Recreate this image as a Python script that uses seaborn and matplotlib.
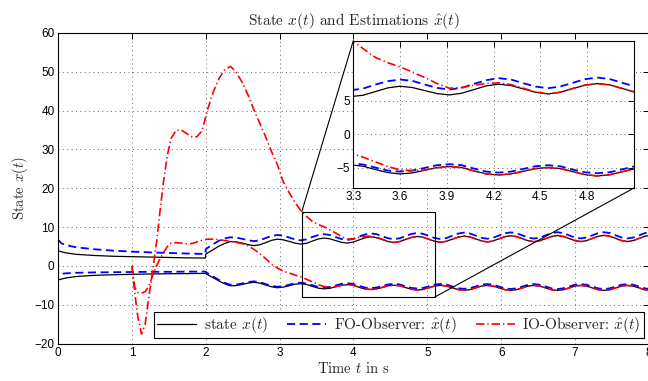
import numpy as np
import pandas as pd
import matplotlib
matplotlib.use("Agg")
import matplotlib.pyplot as plt
import seaborn as sns
from matplotlib.patches import Rectangle, ConnectionPatch
from matplotlib.lines import Line2D

# ---------------- data ----------------
# early phase, state and FO observer
T_STATE_EARLY = [0.0, 0.1, 0.25, 0.5, 0.75, 1.0, 1.25, 1.5, 1.75, 1.995, 2.0]
STATE1_EARLY = [3.9, 3.4, 3.0, 2.7, 2.5, 2.4, 2.3, 2.2, 2.1, 2.05, 3.0]
STATE2_EARLY = [-3.6, -3.1, -2.7, -2.4, -2.25, -2.15, -2.05, -2.0, -1.95, -1.9, -1.95]

T_FO_EARLY = [0.0, 0.003, 0.05, 0.1, 0.25, 0.5, 0.75, 1.0, 1.25, 1.5, 1.75, 1.995, 2.0]
FO1_EARLY = [0.0, 6.7, 5.8, 5.4, 4.8, 4.3, 3.95, 3.7, 3.5, 3.35, 3.2, 3.1, 4.3]
FO2_EARLY = [0.0, -2.1, -2.0, -1.9, -1.75, -1.65, -1.6, -1.55, -1.5, -1.5, -1.45, -1.45, -1.5]

# IO observer starts at t = 1
T_IO_EARLY = [1.0, 1.04, 1.08, 1.13, 1.18, 1.23, 1.29, 1.34, 1.38, 1.43, 1.48,
              1.53, 1.6, 1.67, 1.75, 1.82, 1.88, 1.95]
IO1_EARLY = [0.0, -7.0, -13.0, -17.5, -15.0, -8.0, 0.0, 7.0, 14.0, 22.0, 28.5,
             32.8, 35.0, 35.0, 34.0, 33.2, 33.3, 34.8]
IO2_EARLY = [0.0, -5.5, -6.8, -7.0, -6.6, -5.2, -2.0, 0.3, 1.8, 3.5, 5.0,
             5.9, 6.0, 5.9, 5.7, 5.8, 6.2, 6.6]

# late phase, sampled every 0.079 s starting at t = 2.02
T_LATE = list(np.round(2.02 + 0.079 * np.arange(77), 4))

STATE1_LATE = [3.3, 4.2, 5.1, 5.8, 6.3, 6.2, 5.9, 5.5, 5.25, 5.45, 6.0, 6.6, 6.9, 6.75,
               6.35, 5.9, 5.65, 5.85, 6.4, 6.95, 7.2, 7.0, 6.55, 6.1, 5.9, 6.15, 6.7,
               7.25, 7.5, 7.3, 6.8, 6.3, 6.05, 6.3, 6.85, 7.35, 7.6, 7.4, 6.88, 6.35,
               6.12, 6.36, 6.9, 7.45, 7.7, 7.48, 6.98, 6.45, 6.2, 6.45, 7.0, 7.55, 7.8,
               7.57, 7.03, 6.5, 6.25, 6.5, 7.06, 7.6, 7.85, 7.62, 7.08, 6.53, 6.3, 6.53,
               7.1, 7.65, 7.9, 7.66, 7.1, 6.54, 6.3, 6.54, 7.1, 7.66, 7.9]
STATE2_LATE = [-2.2, -3.0, -3.85, -4.6, -5.1, -5.05, -4.75, -4.4, -4.2, -4.4, -4.9, -5.35,
               -5.6, -5.45, -5.1, -4.7, -4.55, -4.75, -5.25, -5.7, -5.9, -5.75, -5.35,
               -4.95, -4.8, -4.95, -5.45, -5.9, -6.05, -5.9, -5.5, -5.1, -4.95, -5.1,
               -5.55, -6.0, -6.2, -6.03, -5.58, -5.15, -4.97, -5.15, -5.62, -6.08, -6.25,
               -6.08, -5.63, -5.17, -5.0, -5.17, -5.64, -6.1, -6.28, -6.1, -5.65, -5.18,
               -5.0, -5.18, -5.65, -6.12, -6.3, -6.12, -5.65, -5.18, -5.0, -5.18, -5.65,
               -6.12, -6.3, -6.12, -5.65, -5.18, -5.0, -5.18, -5.65, -6.12, -6.3]
FO1_LATE = [4.6, 5.6, 6.5, 7.1, 7.4, 7.3, 7.0, 6.6, 6.4, 6.6, 7.2, 7.7, 8.0, 7.8, 7.35,
            6.85, 6.6, 6.85, 7.45, 7.95, 8.2, 8.0, 7.45, 6.95, 6.7, 6.95, 7.55, 8.1, 8.4,
            8.2, 7.65, 7.15, 6.9, 7.15, 7.7, 8.25, 8.5, 8.28, 7.73, 7.18, 6.95, 7.2, 7.78,
            8.35, 8.6, 8.37, 7.83, 7.25, 7.02, 7.27, 7.85, 8.42, 8.65, 8.42, 7.88, 7.3,
            7.07, 7.3, 7.9, 8.47, 8.7, 8.47, 7.9, 7.32, 7.1, 7.32, 7.9, 8.47, 8.7, 8.47,
            7.9, 7.32, 7.1, 7.32, 7.9, 8.47, 8.7]
FO2_LATE = [-1.8, -2.7, -3.6, -4.35, -4.85, -4.8, -4.5, -4.15, -3.95, -4.15, -4.65, -5.1,
            -5.35, -5.2, -4.85, -4.45, -4.3, -4.5, -4.95, -5.4, -5.55, -5.4, -5.0, -4.6,
            -4.45, -4.6, -5.1, -5.55, -5.7, -5.55, -5.15, -4.75, -4.6, -4.75, -5.25,
            -5.65, -5.8, -5.65, -5.22, -4.78, -4.62, -4.78, -5.27, -5.72, -5.88, -5.72,
            -5.28, -4.8, -4.65, -4.8, -5.3, -5.75, -5.92, -5.75, -5.3, -4.82, -4.67,
            -4.82, -5.3, -5.77, -5.95, -5.75, -5.3, -4.82, -4.67, -4.82, -5.3, -5.77,
            -5.95, -5.75, -5.3, -4.82, -4.67, -4.82, -5.3, -5.77, -5.95]
IO1_LATE = [40.0, 44.7, 48.2, 50.6, 51.4, 49.8, 47.3, 44.0, 40.2, 36.8, 33.3, 29.5, 26.2,
            21.8, 19.0, 16.5, 14.3, 12.8, 11.5, 10.7, 10.1, 9.3, 8.5, 7.6, 6.9, 7.0, 7.35,
            7.6, 7.7, 7.45, 6.9, 6.35, 6.05, 6.3, 6.85, 7.35, 7.6, 7.4, 6.88, 6.35,
            6.12, 6.36, 6.9, 7.45, 7.7, 7.48, 6.98, 6.45, 6.2, 6.45, 7.0, 7.55, 7.8,
            7.57, 7.03, 6.5, 6.25, 6.5, 7.06, 7.6, 7.85, 7.62, 7.08, 6.53, 6.3, 6.53,
            7.1, 7.65, 7.9, 7.66, 7.1, 6.54, 6.3, 6.54, 7.1, 7.66, 7.9]
IO2_LATE = [6.9, 6.9, 6.8, 6.55, 6.35, 6.05, 5.75, 5.2, 4.3, 3.2, 1.9, 0.5, -0.5, -1.3,
            -1.8, -2.3, -2.8, -3.4, -4.1, -4.8, -5.3, -5.4, -5.3, -5.0, -4.8, -4.95,
            -5.45, -5.9, -6.05, -5.9, -5.5, -5.1, -4.95, -5.1, -5.55, -6.0, -6.2, -6.03,
            -5.58, -5.15, -4.97, -5.15, -5.62, -6.08, -6.25, -6.08, -5.63, -5.17, -5.0,
            -5.17, -5.64, -6.1, -6.28, -6.1, -5.65, -5.18, -5.0, -5.18, -5.65, -6.12,
            -6.3, -6.12, -5.65, -5.18, -5.0, -5.18, -5.65, -6.12, -6.3, -6.12, -5.65,
            -5.18, -5.0, -5.18, -5.65, -6.12, -6.3]

XTICKS = [0, 1, 2, 3, 4, 5, 6, 7, 8]
YTICKS = [-20, -10, 0, 10, 20, 30, 40, 50, 60]
INSET_XTICKS = [3.3, 3.6, 3.9, 4.2, 4.5, 4.8]
INSET_YTICKS = [-5, 0, 5]
ZOOM_X = [3.3, 5.1]
ZOOM_Y = [-8, 14]

TITLE = r"State $x(t)$ and Estimations $\hat{x}(t)$"
XLABEL = r"Time $t$ in s"
YLABEL = r"State $x(t)$"
LEGEND = [r"state $x(t)$", r"FO-Observer: $\hat{x}(t)$", r"IO-Observer: $\hat{x}(t)$"]

# ---------------- assemble long tables ----------------
def frame(t, v, series):
    return pd.DataFrame({"t": t, "x": v, "series": series})

df = pd.concat([
    frame(T_STATE_EARLY + T_LATE, STATE1_EARLY + STATE1_LATE, "s1"),
    frame(T_STATE_EARLY + T_LATE, STATE2_EARLY + STATE2_LATE, "s2"),
    frame(T_FO_EARLY + T_LATE, FO1_EARLY + FO1_LATE, "f1"),
    frame(T_FO_EARLY + T_LATE, FO2_EARLY + FO2_LATE, "f2"),
    frame(T_IO_EARLY + T_LATE, IO1_EARLY + IO1_LATE, "r1"),
    frame(T_IO_EARLY + T_LATE, IO2_EARLY + IO2_LATE, "r2"),
], ignore_index=True)

STYLES = {
    "s1": dict(color="black", lw=0.9, linestyle="-"),
    "s2": dict(color="black", lw=0.9, linestyle="-"),
    "f1": dict(color="#0000ff", lw=1.3, linestyle=(0, (4.5, 2.5))),
    "f2": dict(color="#0000ff", lw=1.3, linestyle=(0, (4.5, 2.5))),
    "r1": dict(color="#ff0000", lw=1.2, linestyle=(0, (5, 1.8, 0.8, 1.8))),
    "r2": dict(color="#ff0000", lw=1.2, linestyle=(0, (5, 1.8, 0.8, 1.8))),
}

sns.set_theme(style="white")
plt.rcParams.update({
    "font.family": ["serif"],
    "font.serif": ["cmr10"],
    "mathtext.fontset": "cm",
    "axes.formatter.use_mathtext": False,
    "axes.edgecolor": "black",
    "axes.linewidth": 0.8,
})

fig = plt.figure(figsize=(6.48, 3.81), dpi=100)
ax = fig.add_axes([0.0895, 0.098, 0.912, 0.8154])


def draw_lines(a):
    for key in ["s1", "s2", "f1", "f2", "r1", "r2"]:
        sub = df[df["series"] == key]
        sns.lineplot(data=sub, x="t", y="x", ax=a, sort=False, estimator=None,
                     legend=False, **STYLES[key])


def style_axes(a, xticks, yticks):
    a.set_xticks(xticks)
    a.set_yticks(yticks)
    a.grid(True, color="0.4", linestyle=(0, (1, 3.5)), lw=0.7)
    a.tick_params(direction="in", top=True, right=True, length=4, width=0.7,
                  labelsize=8.5, labelfontfamily="Liberation Sans", colors="black",
                  pad=2.5)
    for s in a.spines.values():
        s.set_color("black")
        s.set_linewidth(0.8)
    a.set_xlabel("")
    a.set_ylabel("")


draw_lines(ax)
ax.set_xlim(0, 8)
ax.set_ylim(-20, 60)
style_axes(ax, XTICKS, YTICKS)
ax.set_title(TITLE, fontsize=11, pad=6)
ax.set_xlabel(XLABEL, fontsize=10.5, labelpad=1)
ax.set_ylabel(YLABEL, fontsize=10.5, labelpad=3)

handles = [Line2D([], [], **STYLES[k]) for k in ["s1", "f1", "r1"]]
leg = ax.legend(handles, LEGEND, loc="lower right", ncol=3, fontsize=11,
                frameon=True, fancybox=False, edgecolor="black", framealpha=1,
                borderaxespad=0.35, handlelength=2.55, columnspacing=1.25,
                handletextpad=0.5, borderpad=0.2)
leg.get_frame().set_linewidth(0.8)

# zoom rectangle
ax.add_patch(Rectangle((ZOOM_X[0], ZOOM_Y[0]), ZOOM_X[1] - ZOOM_X[0], ZOOM_Y[1] - ZOOM_Y[0],
                       fill=False, ec="black", lw=0.8, zorder=5))

# inset
axins = fig.add_axes([0.5452, 0.5066, 0.4332, 0.3866])
draw_lines(axins)
axins.set_xlim(*ZOOM_X)
axins.set_ylim(*ZOOM_Y)
style_axes(axins, INSET_XTICKS, INSET_YTICKS)
axins.set_facecolor("white")

for xyA, xyB in [((ZOOM_X[0], ZOOM_Y[1]), (0, 1)), ((ZOOM_X[1], ZOOM_Y[0]), (1, 0))]:
    cp = ConnectionPatch(xyA=xyA, coordsA=ax.transData, xyB=xyB, coordsB=axins.transAxes,
                         color="black", lw=0.8)
    fig.add_artist(cp)

fig.savefig("out.png", dpi=100)
